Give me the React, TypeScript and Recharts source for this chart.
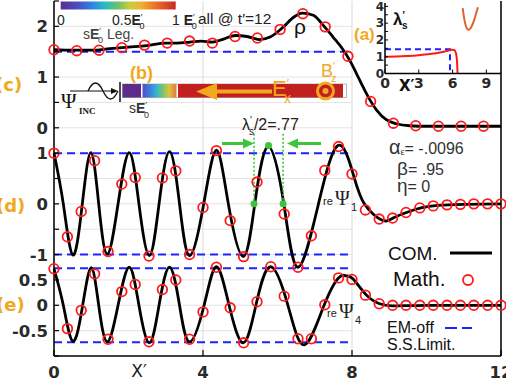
import React from "react";
import {
  ComposedChart,
  LineChart,
  Line,
  XAxis,
  YAxis,
  CartesianGrid,
  ReferenceLine,
  ReferenceDot,
} from "recharts";

// panel (c): density rho, COM. curve and Math. points
const rhoComX = [0, 0.5, 1, 1.5, 2, 2.5, 3, 3.3, 3.65, 3.95, 4.25, 4.55, 4.87, 5.18, 5.52, 5.8, 6.16, 6.43, 6.67, 6.96, 7.23, 7.49, 7.77, 7.94, 8.12, 8.3, 8.48, 8.66, 8.92, 9.19, 9.55, 10, 11, 12];
const rhoCom = [1.54, 1.53, 1.53, 1.56, 1.59, 1.62, 1.67, 1.67, 1.69, 1.71, 1.69, 1.75, 1.82, 1.8, 1.74, 1.79, 1.99, 2.18, 2.26, 2.22, 2.02, 1.79, 1.53, 1.33, 1.07, 0.8, 0.55, 0.35, 0.16, 0.08, 0.04, 0.03, 0.03, 0.03];
const rhoMathX = [0, 0.61, 1.21, 1.82, 2.43, 3.04, 3.64, 4.25, 4.86, 5.46, 6.07, 6.68, 7.28, 7.89, 8.5, 9.11, 9.71, 10.32, 10.93, 11.53];
const rhoMath = [1.54, 1.52, 1.53, 1.58, 1.63, 1.67, 1.71, 1.67, 1.8, 1.77, 1.94, 2.25, 1.99, 1.41, 0.52, 0.09, 0.04, 0.03, 0.03, 0.03];

// panel (d): re Psi_1
const psi1ComX = [0, 0.25, 0.51, 0.76, 0.99, 1.2, 1.43, 1.72, 2.02, 2.28, 2.56, 2.82, 3.1, 3.37, 3.64, 4.02, 4.36, 4.68, 5.08, 5.39, 5.75, 6.17, 6.55, 7.1, 7.62, 8.03, 8.33, 8.8, 9.1, 9.5, 9.85, 10.3, 11, 12];
const psi1Com = [1.0, 0, -1.01, 0, 1.01, 0, -0.99, 0, 1.01, 0, -1.02, 0, 1.03, 0, -1.02, 0, 1.06, 0, -1.04, 0, 1.13, 0, -1.25, 0, 1.15, 0.59, 0, -0.32, -0.28, -0.16, -0.08, -0.03, -0.01, 0];

// panel (e): re Psi_4
const psi4ComX = [0, 0.25, 0.51, 0.77, 1.0, 1.2, 1.43, 1.72, 2.02, 2.28, 2.56, 2.82, 3.1, 3.37, 3.64, 4.03, 4.36, 4.7, 5.08, 5.42, 5.81, 6.28, 6.72, 7.25, 7.65, 7.85, 8.03, 8.39, 8.74, 9.1, 10, 12];
const psi4Com = [0.72, 0, -0.71, 0, 0.74, 0, -0.72, 0, 0.75, 0, -0.74, 0, 0.75, 0, -0.72, 0, 0.76, 0, -0.74, 0, 0.76, 0, -0.78, 0, 0.55, 0.58, 0.52, 0.2, 0.03, -0.01, 0, 0];

// Math. points shared grid for Psi panels
const psiMathX = [0, 0.36, 0.73, 1.09, 1.45, 1.82, 2.18, 2.55, 2.91, 3.27, 3.64, 4.0, 4.36, 4.73, 5.09, 5.45, 5.82, 6.18, 6.55, 6.91, 7.27, 7.64, 8.0, 8.36, 8.73, 9.09, 9.45, 9.82, 10.18, 10.55, 10.91, 11.27, 11.64, 12.0];
const psi1Math = [1.0, -0.65, -0.15, 0.85, -0.94, 0.39, 0.52, -1.03, 0.51, 0.65, -1.0, -0.07, 1.05, -0.33, -1.04, 0.43, null, -0.2, -1.25, -0.63, 0.66, 1.13, 0.59, -0.12, -0.3, -0.28, -0.17, -0.08, -0.04, -0.02, -0.01, 0, 0, 0];
const psi4Math = [0.72, -0.46, -0.1, 0.62, -0.67, 0.27, 0.41, -0.72, 0.31, 0.5, -0.67, -0.13, 0.75, -0.05, -0.74, 0.07, 0.76, 0.18, -0.66, -0.66, 0.01, 0.54, 0.51, 0.2, 0.03, 0, 0, 0, 0, 0, 0, 0, 0, 0];

// EM-off steady state limits (drawn from x=0 to x=8)
const rhoLimit = [1.5];
const psi1Limit = [1, -1];
const psi4Limit = [0.73, -0.73];
const limitX = [0, 8];

// inset (a): lambda'_s vs x'
const lamX = [0, 1, 2, 3, 4, 5, 5.6, 5.95, 6.15, 6.3, 6.38, 6.42, 6.44];
const lam = [1.0, 1.01, 1.04, 1.09, 1.16, 1.27, 1.36, 1.42, 1.4, 1.2, 0.85, 0.4, 0];
const lamLimitX = [0, 5.77, 5.77];
const lamLimit = [1.45, 1.45, 0];
const uX = [6.9, 7.0, 7.15, 7.3, 7.45, 7.65, 7.9, 8.1, 8.25];
const uY = [3.9, 3.4, 2.9, 2.65, 2.6, 2.75, 3.15, 3.6, 3.95];

// stacked axis: e at 0, d at +2, c at +3.5
const OFF_RHO = 3.5;
const OFF_PSI1 = 2;
const OFF_PSI4 = 0;

const yTicks = [-1, -0.5, 0, 0.5, 1, 1.5, 2, 2.5, 3, 3.5, 4, 4.5, 5, 5.5, 6];
const yTickLabels = ["", "-0.5", "0", "0.5", "-1", "", "0", "", "1", "0", "", "1", "", "2", ""];
const xTicks = [0, 4, 8, 12];
const gridYs = [-0.5, 0, 0.5, 1, 1.5, 2, 2.5, 3, 3.5, 4, 4.5, 5, 5.5];

const lamTicks = [0, 0.5, 1, 1.5, 2, 2.5, 3, 3.5, 4];
const lamXTicks = [0, 3, 6, 9];

const SANS = "Liberation Sans, Arial, sans-serif";
const TICK_FONT = "DejaVu Sans, sans-serif";
const SERIF = "Liberation Serif, serif";
const ORANGE = "#f2a81d";
const BLUE = "#1f22ff";
const GREEN = "#3cc43c";

const pairs = (xs: number[], vs: (number | null)[]) => xs.map((x, i) => ({ x, v: vs[i] }));
const seg = (y: number) => limitX.map((x) => ({ x, v: y }));

function LeftTick(props: any) {
  const { x, y, payload } = props;
  const i = yTicks.indexOf(payload.value);
  const label = i >= 0 ? yTickLabels[i] : "";
  return (
    <g>
      <line x1={x + 6} y1={y} x2={x + 11} y2={y} stroke="#000" strokeWidth={1.2} />
      {label !== "" && (
        <text x={x} y={y} dy="0.36em" textAnchor="end" fontFamily={TICK_FONT} fontWeight="bold" fontSize={16.5} fill="#2a2a2a">
          {label}
        </text>
      )}
    </g>
  );
}

function RightTick(props: any) {
  const { x, y } = props;
  return <line x1={x - 5} y1={y} x2={x} y2={y} stroke="#000" strokeWidth={1.2} />;
}

function BottomTick(props: any) {
  const { x, y, payload } = props;
  return (
    <g>
      <line x1={x} y1={y} x2={x} y2={y - 6} stroke="#000" strokeWidth={1.2} />
      <text x={x} y={y + 21.5} textAnchor="middle" fontFamily={TICK_FONT} fontWeight="bold" fontSize={16.5} fill="#2a2a2a">
        {payload.value}
      </text>
    </g>
  );
}

function InsetLeftTick(props: any) {
  const { x, y, payload } = props;
  const whole = Number.isInteger(payload.value);
  return (
    <g>
      <line x1={x + 2} y1={y} x2={x + 5} y2={y} stroke="#000" strokeWidth={1} />
      {whole && (
        <text x={x + 1} y={y} dy="0.36em" textAnchor="end" fontFamily={TICK_FONT} fontWeight="bold" fontSize={12} fill="#2a2a2a">
          {payload.value}
        </text>
      )}
    </g>
  );
}

function InsetBottomTick(props: any) {
  const { x, y, payload } = props;
  return (
    <g>
      <line x1={x} y1={y} x2={x} y2={y - 4} stroke="#000" strokeWidth={1} />
      <text x={x} y={y + 14} textAnchor="middle" fontFamily={TICK_FONT} fontWeight="bold" fontSize={14} fill="#2a2a2a">
        {payload.value}
      </text>
    </g>
  );
}

const circleDot = { r: 4.8, stroke: "#ff1a1a", strokeWidth: 1.8, fill: "none" };

function MainChart() {
  return (
    <ComposedChart width={506} height={381} margin={{ top: 1, right: 0, bottom: 0, left: 0 }}>
      <CartesianGrid horizontal={false} stroke="#d9d9d9" strokeWidth={1} />
      <XAxis
        dataKey="x"
        type="number"
        domain={[0, 12]}
        ticks={xTicks}
        interval={0}
        height={25}
        tickSize={0}
        tickMargin={0}
        tick={BottomTick}
        axisLine={{ stroke: "#000", strokeWidth: 1.5 }}
      />
      <YAxis
        type="number"
        domain={[-1, 6]}
        ticks={yTicks}
        interval={0}
        width={54}
        tickSize={0}
        tickMargin={6}
        tick={LeftTick}
        axisLine={{ stroke: "#000", strokeWidth: 1.5 }}
      />
      <YAxis
        yAxisId="r"
        orientation="right"
        type="number"
        domain={[-1, 6]}
        ticks={yTicks}
        interval={0}
        width={5}
        tickSize={0}
        tickMargin={0}
        tick={RightTick}
        axisLine={{ stroke: "#000", strokeWidth: 1.5 }}
      />

      {gridYs.map((g) => (
        <Line key={"g" + g} data={seg(g)} dataKey="v" stroke="#e3e3e3" strokeWidth={1} dot={false} activeDot={false} isAnimationActive={false} />
      ))}

      {rhoLimit.map((l) => (
        <Line key={"lr" + l} data={seg(l + OFF_RHO)} dataKey="v" stroke={BLUE} strokeWidth={2} strokeDasharray="8 5" dot={false} activeDot={false} isAnimationActive={false} />
      ))}
      {psi1Limit.map((l) => (
        <Line key={"l1" + l} data={seg(l + OFF_PSI1)} dataKey="v" stroke={BLUE} strokeWidth={2} strokeDasharray="8 5" dot={false} activeDot={false} isAnimationActive={false} />
      ))}
      {psi4Limit.map((l) => (
        <Line key={"l4" + l} data={seg(l + OFF_PSI4)} dataKey="v" stroke={BLUE} strokeWidth={2} strokeDasharray="8 5" dot={false} activeDot={false} isAnimationActive={false} />
      ))}

      <Line data={pairs(rhoComX, rhoCom)} dataKey={(d: any) => d.v + OFF_RHO} type="monotone" stroke="#000" strokeWidth={2.8} dot={false} activeDot={false} isAnimationActive={false} />
      <Line data={pairs(psi1ComX, psi1Com)} dataKey={(d: any) => d.v + OFF_PSI1} type="natural" stroke="#000" strokeWidth={2.8} dot={false} activeDot={false} isAnimationActive={false} />
      <Line data={pairs(psi4ComX, psi4Com)} dataKey={(d: any) => d.v + OFF_PSI4} type="natural" stroke="#000" strokeWidth={2.8} dot={false} activeDot={false} isAnimationActive={false} />

      <Line data={pairs(rhoMathX, rhoMath)} dataKey={(d: any) => (d.v == null ? null : d.v + OFF_RHO)} stroke="none" dot={circleDot} activeDot={false} isAnimationActive={false} />
      <Line data={pairs(psiMathX, psi1Math)} dataKey={(d: any) => (d.v == null ? null : d.v + OFF_PSI1)} stroke="none" dot={circleDot} activeDot={false} isAnimationActive={false} />
      <Line data={pairs(psiMathX, psi4Math)} dataKey={(d: any) => (d.v == null ? null : d.v + OFF_PSI4)} stroke="none" dot={circleDot} activeDot={false} isAnimationActive={false} />

      {/* lambda'_s / 2 marker */}
      <ReferenceLine segment={[{ x: 5.37, y: OFF_PSI1 }, { x: 5.37, y: OFF_PSI1 + 1.4 }]} stroke={GREEN} strokeWidth={1.6} strokeDasharray="2 2" />
      <ReferenceLine segment={[{ x: 6.15, y: OFF_PSI1 }, { x: 6.15, y: OFF_PSI1 + 1.4 }]} stroke={GREEN} strokeWidth={1.6} strokeDasharray="2 2" />
      <ReferenceDot x={5.37} y={OFF_PSI1} r={3.5} fill={GREEN} stroke="none" />
      <ReferenceDot x={6.15} y={OFF_PSI1} r={3.5} fill={GREEN} stroke="none" />
      <ReferenceDot x={5.76} y={OFF_PSI1 + 1.15} r={3.5} fill={GREEN} stroke="none" />
    </ComposedChart>
  );
}

function Inset() {
  return (
    <LineChart width={136} height={92} margin={{ top: 3, right: 5, bottom: 0, left: 0 }}>
      <XAxis
        dataKey="x"
        type="number"
        domain={[0, 10.3]}
        ticks={lamXTicks}
        interval={0}
        height={18.5}
        tickSize={0}
        tickMargin={0}
        tick={InsetBottomTick}
        axisLine={{ stroke: "#000", strokeWidth: 1.5 }}
      />
      <YAxis
        type="number"
        domain={[0, 4.2]}
        ticks={lamTicks}
        interval={0}
        width={15}
        tickSize={0}
        tickMargin={2}
        tick={InsetLeftTick}
        axisLine={{ stroke: "#000", strokeWidth: 1.5 }}
      />
      <Line data={pairs(lamLimitX, lamLimit)} dataKey="v" stroke={BLUE} strokeWidth={2} strokeDasharray="6 4" dot={false} activeDot={false} isAnimationActive={false} />
      <Line data={pairs(lamX, lam)} dataKey="v" type="monotone" stroke="#ff1a1a" strokeWidth={2} dot={false} activeDot={false} isAnimationActive={false} />
      <Line data={pairs(uX, uY)} dataKey="v" type="monotone" stroke="#d9662c" strokeWidth={2} dot={false} activeDot={false} isAnimationActive={false} />
    </LineChart>
  );
}

function Overlay() {
  return (
    <svg width={506} height={381} style={{ position: "absolute", left: 0, top: 0, pointerEvents: "none" }}>
      <defs>
        <linearGradient id="cbar" x1="0" x2="1" y1="0" y2="0">
          <stop offset="0" stopColor="#5b2c8f" />
          <stop offset="0.15" stopColor="#4a4fc0" />
          <stop offset="0.28" stopColor="#2f86e0" />
          <stop offset="0.38" stopColor="#26b8c8" />
          <stop offset="0.5" stopColor="#6cc36a" />
          <stop offset="0.6" stopColor="#c8cc40" />
          <stop offset="0.7" stopColor="#f0b030" />
          <stop offset="0.84" stopColor="#e86a28" />
          <stop offset="1" stopColor="#c82828" />
        </linearGradient>
        <linearGradient id="bbar" x1="0" x2="1" y1="0" y2="0">
          <stop offset="0" stopColor="#5a4cc0" />
          <stop offset="0.22" stopColor="#3a7ee0" />
          <stop offset="0.42" stopColor="#36b8cc" />
          <stop offset="0.6" stopColor="#7cc46c" />
          <stop offset="0.78" stopColor="#d8c440" />
          <stop offset="1" stopColor="#e07a3c" />
        </linearGradient>
      </defs>

      {/* top colour legend */}
      <rect x={60.7} y={1.5} width={115} height={8} fill="url(#cbar)" />
      <g fontFamily={SANS} fontSize={14} fill="#222">
        <text x={57} y={25}>0</text>
        <text x={112} y={25}>0.5<tspan fontWeight="bold">E</tspan><tspan fontSize={9} dy={-5}>′</tspan><tspan fontSize={9} dx={-3} dy={9}>0</tspan></text>
        <text x={172} y={25}>1 <tspan fontWeight="bold">E</tspan><tspan fontSize={9} dy={-5}>′</tspan><tspan fontSize={9} dx={-3} dy={9}>0</tspan></text>
      </g>
      <text x={198} y={24} fontFamily={SANS} fontSize={15.5} fill="#222">all @ t′=12</text>
      <text x={83} y={39} fontFamily={SANS} fontSize={14} fill="#444">s<tspan fontWeight="bold">E</tspan><tspan fontSize={9} dy={-5}>′</tspan><tspan fontSize={9} dx={-3} dy={9}>0</tspan><tspan dy={-4}> Leg.</tspan></text>

      {/* (b) strip */}
      <rect x={122.5} y={84} width={224} height={13.5} fill="#fff" stroke="#aaa" strokeWidth={0.8} />
      <rect x={122.5} y={84} width={18.5} height={13.5} fill="#5e2a8c" />
      <rect x={142.5} y={84} width={34} height={13.5} fill="url(#bbar)" />
      <rect x={178} y={84} width={165} height={13.5} fill="#c21f1f" />
      <polygon points="196,91.5 217,83 217,100" fill={ORANGE} />
      <rect x={216} y={89.5} width={56} height={4} fill={ORANGE} />
      <text x={272} y={96} fill={ORANGE} fontFamily={SANS} fontSize={22}>E<tspan fontSize={12} dy={-8}>′</tspan><tspan fontSize={14} dx={-5} dy={15}>x</tspan></text>
      <text x={321} y={77} fill={ORANGE} fontFamily={SANS} fontSize={18}>B<tspan fontSize={11} dy={-7}>′</tspan><tspan fontSize={11} dx={-4} dy={12}>z</tspan></text>
      <circle cx={325.5} cy={91} r={8} fill="none" stroke={ORANGE} strokeWidth={3} />
      <circle cx={325.5} cy={91} r={3} fill={ORANGE} />
      <text x={130} y={79} fill={ORANGE} fontFamily={SANS} fontWeight="bold" fontSize={18}>(b)</text>

      {/* incident wave */}
      <line x1={120} y1={82} x2={120} y2={102} stroke="#111" strokeWidth={1.5} />
      <line x1={70} y1={91} x2={116} y2={91} stroke="#111" strokeWidth={1.2} />
      <polygon points="118,91 111,88 111,94" fill="#111" />
      <path d="M88 91 Q95.5 75 103 91 Q110.5 107 118 91" fill="none" stroke="#111" strokeWidth={1.3} />
      <text x={61} y={108} fontFamily={SERIF} fontSize={21} fill="#111">Ψ</text>
      <text x={79} y={114} fontFamily={SERIF} fontWeight="bold" fontSize={9} fill="#111">INC</text>
      <text x={129} y={113} fontFamily={SANS} fontSize={14} fill="#333">s<tspan fontWeight="bold">E</tspan><tspan fontSize={9} dy={-5}>′</tspan><tspan fontSize={9} dx={-3} dy={10}>0</tspan></text>

      {/* panel labels */}
      <g fill={ORANGE} fontFamily={TICK_FONT} fontWeight="bold" fontSize={18}>
        <text x={-5} y={91}>(c)</text>
        <text x={-4} y={212}>(d)</text>
        <text x={-4} y={311}>(e)</text>
      </g>
      <text x={354} y={40} fill={ORANGE} fontFamily={SANS} fontWeight="bold" fontSize={17}>(a)</text>
      <text x={294} y={34} fontFamily={SANS} fontSize={21} fill="#111">ρ</text>

      {/* inset annotations */}
      <text x={393} y={25} fontFamily={SANS} fontWeight="bold" fontSize={17} fill="#111">λ<tspan fontSize={10} dy={-6}>′</tspan><tspan fontSize={10} dx={-3} dy={10}>s</tspan></text>
      <text x={399} y={91} fontFamily={TICK_FONT} fontWeight="bold" fontSize={15} fill="#111">X′</text>

      {/* lambda/2 annotation */}
      <text x={242} y={130} fontFamily={SANS} fontSize={16} fill="#222">λ<tspan fontSize={10} dy={-6}>′</tspan><tspan fontSize={10} dx={-3} dy={11}>s</tspan><tspan dy={-5}>/2=.77</tspan></text>
      <rect x={222} y={142} width={22} height={3} fill={GREEN} />
      <polygon points="243,138.5 254,143.5 243,148.5" fill={GREEN} />
      <rect x={297} y={142} width={24} height={3} fill={GREEN} />
      <polygon points="287,143.5 298,138.5 298,148.5" fill={GREEN} />

      {/* curve labels */}
      <text x={323} y={205} fontFamily={SANS} fontSize={11} fill="#222">re</text>
      <text x={335} y={205} fontFamily={SERIF} fontSize={20} fill="#222">Ψ</text>
      <text x={351} y={211} fontFamily={SANS} fontSize={11} fill="#222">1</text>
      <text x={327} y={317} fontFamily={SANS} fontSize={11} fill="#222">re</text>
      <text x={339} y={318} fontFamily={SERIF} fontSize={20} fill="#222">Ψ</text>
      <text x={355} y={324} fontFamily={SANS} fontSize={11} fill="#222">4</text>

      {/* parameters */}
      <g fontFamily={SANS} fill="#333">
        <text x={389} y={154} fontSize={20}>α<tspan fontSize={9} dy={1}>ε</tspan><tspan fontSize={16} dy={-1}>= -.0096</tspan></text>
        <text x={397} y={175} fontSize={19}>β<tspan fontSize={16}>= .95</tspan></text>
        <text x={397} y={192} fontSize={19}>η<tspan fontSize={16}>= 0</tspan></text>
      </g>

      {/* legend */}
      <g fontFamily={SANS} fill="#111">
        <text x={388} y={260} fontSize={19}>COM.</text>
        <text x={393} y={286} fontSize={21}>Math.</text>
        <text x={387} y={333} fontSize={16}>EM-off</text>
        <text x={387} y={350} fontSize={16}>S.S.Limit.</text>
      </g>
      <line x1={450} y1={253} x2={492} y2={253} stroke="#000" strokeWidth={3} />
      <circle cx={468} cy={280} r={5} fill="none" stroke="#ff1a1a" strokeWidth={1.8} />
      <line x1={445} y1={328} x2={457} y2={328} stroke={BLUE} strokeWidth={2} />
      <line x1={462} y1={328} x2={472} y2={328} stroke={BLUE} strokeWidth={2} />

      {/* x label */}
      <text x={139} y={377} textAnchor="middle" fontFamily={TICK_FONT} fontSize={17} fill="#222">X′</text>
    </svg>
  );
}

export default function App() {
  return (
    <div style={{ position: "absolute", left: 0, top: 0, width: 506, height: 381, background: "#fff" }}>
      <MainChart />
      <div style={{ position: "absolute", left: 370, top: 0 }}>
        <Inset />
      </div>
      <Overlay />
    </div>
  );
}
